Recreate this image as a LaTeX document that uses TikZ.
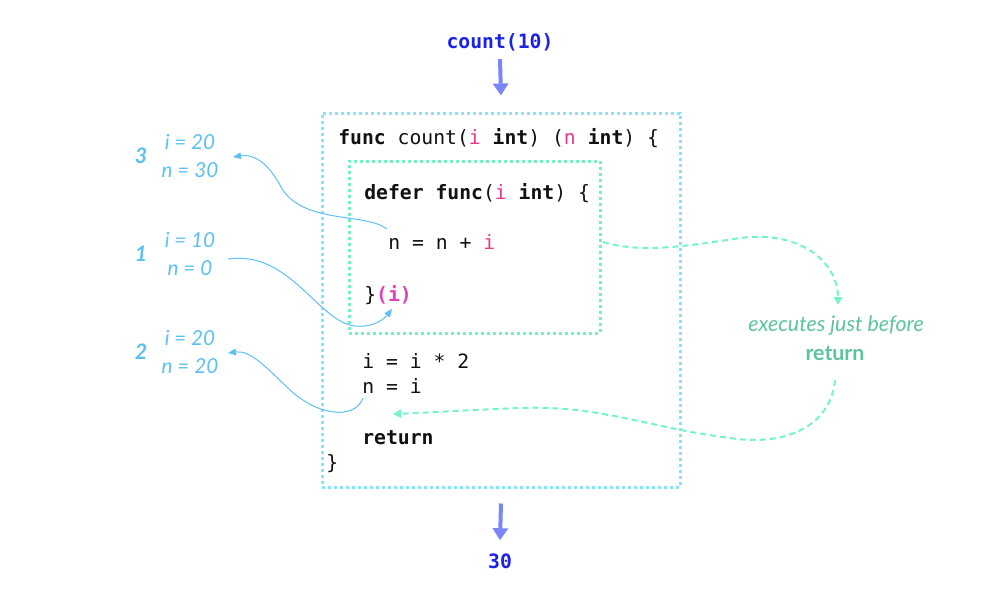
\documentclass[tikz,border=0pt]{standalone}
\usepackage{fontspec}
\setmainfont{Lato}
\newfontfamily\codefont{DejaVu Sans Mono}
\newfontfamily\labfont{Lato}
\usetikzlibrary{arrows.meta}

\definecolor{codeblack}{HTML}{111111}
\definecolor{argpink}{HTML}{E83A8C}
\definecolor{callpink}{HTML}{E040B8}
\definecolor{callblue}{HTML}{1A22E8}
\definecolor{flowblue}{HTML}{7A86F5}
\definecolor{boxcyan}{HTML}{86E6F8}
\definecolor{boxmint}{HTML}{72F2C4}
\definecolor{labblue}{HTML}{5CC0F2}
\definecolor{notegreen}{HTML}{5CC49C}
\definecolor{dashmint}{HTML}{74F4CA}

\newcommand{\argc}[1]{\textcolor{argpink}{#1}}

\begin{document}
\begin{tikzpicture}[x=0.75pt,y=-0.75pt,
  code/.style={anchor=base west, inner sep=0pt, text=codeblack,
    font=\codefont\fontsize{14.8}{17}\selectfont},
  callnode/.style={inner sep=0pt, text=callblue,
    font=\codefont\bfseries\fontsize{14.8}{17}\selectfont},
  lab/.style={inner sep=0pt, text=labblue,
    font=\labfont\itshape\fontsize{15.5}{17}\selectfont},
  num/.style={inner sep=0pt, text=labblue,
    font=\labfont\bfseries\itshape\fontsize{16}{18}\selectfont},
  note/.style={inner sep=0pt, text=notegreen,
    font=\labfont\fontsize{16}{18}\selectfont},
  outerbox/.style={draw=boxcyan, line width=2.25pt,
    dash pattern=on 2.25pt off 2.25pt, inner sep=0pt},
  innerbox/.style={draw=boxmint, line width=2.25pt,
    dash pattern=on 2.25pt off 2.25pt, inner sep=0pt},
  flow/.style={draw=flowblue, line width=3pt,
    -{Triangle[width=11.25pt,length=9pt]}},
  trace/.style={draw=labblue, line width=0.75pt,
    -{Triangle[width=5pt,length=6pt]}},
  defer/.style={draw=dashmint, line width=1.5pt,
    dash pattern=on 4.5pt off 3pt,
    -{Triangle[width=6pt,length=6pt]}}
]
\useasboundingbox (0,0) rectangle (1000,600);

% function body frames
\node[outerbox, minimum width=268.5pt, minimum height=280.5pt] (outer) at (501,300) {};
\node[innerbox, minimum width=188.25pt, minimum height=129pt] (inner) at (474.5,247) {};

% call and result
\node[callnode] (call) at (500,42) {count(10)};
\node[callnode] (result) at (500,561) {30};
\draw[flow] ([yshift=-6pt]call.south) -- ([yshift=12pt]outer.north);
\draw[flow] ([yshift=-11.25pt]outer.south) -- ([yshift=9.75pt]result.north);

% source code
\node[code] (l1) at (338,144) {{\bfseries func} count(\argc{i} {\bfseries int}) (\argc{n} {\bfseries int}) \{};
\node[code] (l2) at (364,199) {{\bfseries defer} {\bfseries func}(\argc{i} {\bfseries int}) \{};
\node[code] (l3) at (388,249) {n = n + \argc{i}};
\node[code] (l4) at (364,301) {\}\textcolor{callpink}{\bfseries(i)}};
\node[code] (l5) at (362,368) {i = i * 2};
\node[code] (l6) at (362,393) {n = i};
\node[code] (l7) at (362,444) {{\bfseries return}};
\node[code] (l8) at (326,469) {\}};

% variable states
\node[num] (s3) at (141,156) {3};
\node[lab] (s3i) at (190,142) {i = 20};
\node[lab] (s3n) at (190,170) {n = 30};
\node[num] (s1) at (141,254) {1};
\node[lab] (s1i) at (190,240) {i = 10};
\node[lab] (s1n) at (190,268) {n = 0};
\node[num] (s2) at (141,352) {2};
\node[lab] (s2i) at (190,338) {i = 20};
\node[lab] (s2n) at (190,366) {n = 20};

% annotation
\node[note] (ex) at (836,326) {\itshape executes just before};
\node[note] (ret) at (835,353) {\bfseries return};

% curve end points
\coordinate (t3a) at (387,229);
\coordinate (t3b) at (233,157);
\coordinate (t1a) at (228,259);
\coordinate (t1b) at (392,309);
\coordinate (t2a) at (363,398);
\coordinate (t2b) at (228,353);
\coordinate (d1a) at (603,242);
\coordinate (d1b) at (838,305);
\coordinate (d2a) at (835,380);
\coordinate (d2b) at (393,414);

% traces of i and n
\draw[trace] (t3a) .. controls (365,212) and (300,225) .. (280,185)
  .. controls (266,160) and (252,154) .. (t3b);
\draw[trace] (t1a) .. controls (290,250) and (318,322) .. (355,326)
  .. controls (374,328) and (385,318) .. (t1b);
\draw[trace] (t2a) .. controls (355,420) and (318,416) .. (290,390)
  .. controls (265,366) and (250,350) .. (t2b);

% deferred call flow
\draw[defer] (d1a) .. controls (640,253) and (682,247) .. (740,238)
  .. controls (800,230) and (838,262) .. (d1b);
\draw[defer] (d2a) .. controls (830,430) and (780,446) .. (730,438)
  .. controls (650,428) and (600,405) .. (520,408)
  .. controls (470,410) and (420,413) .. (d2b);
\end{tikzpicture}
\end{document}
